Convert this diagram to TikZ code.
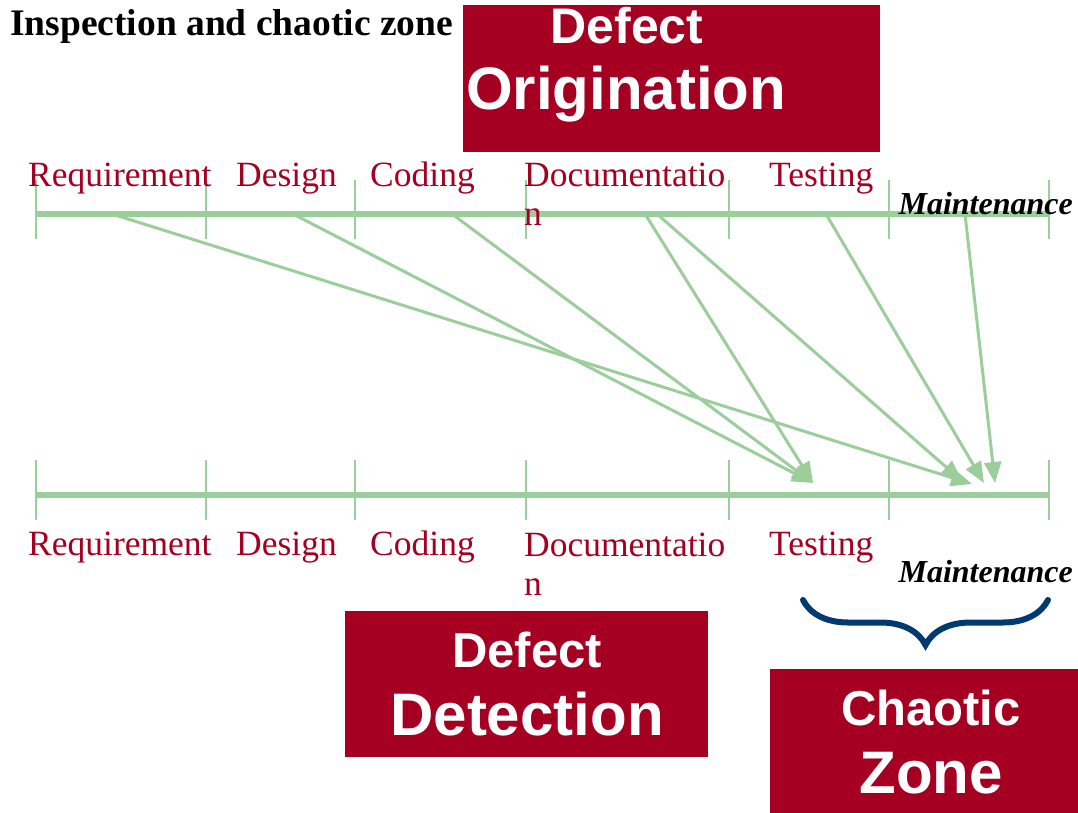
\documentclass[tikz,border=0pt]{standalone}
\usepackage{fontspec}
\setmainfont{Liberation Serif}
\newfontfamily\boxfont{Liberation Sans}
\usetikzlibrary{arrows.meta,decorations.pathreplacing}
\definecolor{defred}{HTML}{A50021}
\definecolor{axisgreen}{HTML}{9CCE9C}
\definecolor{bracenavy}{HTML}{003A70}

\begin{document}
\begin{tikzpicture}[
x=1pt, y=-1pt,
phase/.style={text=defred, font=\fontsize{35.5}{39}\selectfont, anchor=base west, inner sep=0pt, align=left},
maint/.style={font=\fontsize{32}{36}\selectfont\bfseries\itshape, anchor=base east, inner sep=0pt},
redbox/.style={fill=defred, anchor=north west, inner sep=0pt},
boxtext/.style={text=white, anchor=base, inner sep=0pt},
axis/.style={axisgreen, line width=6pt},
tickline/.style={axisgreen, line width=2pt},
arrow/.style={-{Triangle[length=21pt, width=17pt]}, axisgreen, line width=3pt}
]
\useasboundingbox (0,0) rectangle (1078,813);

\node[anchor=base west, inner sep=0pt, font=\fontsize{37.5}{40}\selectfont\bfseries] (title) at (10,36) {Inspection and chaotic zone};

\node[redbox, minimum width=417, minimum height=147] (origbox) at (463,5) {};
\node[boxtext, font=\boxfont\fontsize{50}{50}\selectfont\bfseries] (origtop) at (627,44) {Defect};
\node[boxtext, font=\boxfont\fontsize{60}{60}\selectfont\bfseries] (origbot) at (626,110) {Origination};

\coordinate (topL) at (36,214);
\coordinate (topR) at (1050,214);
\coordinate (botL) at (36,495);
\coordinate (botR) at (1050,495);
\draw[axis] (topL) -- (topR);
\draw[axis] (botL) -- (botR);
\foreach \x in {36,206,355,526,729,889,1049} {
  \draw[tickline] (\x,180) -- (\x,239);
  \draw[tickline] (\x,460) -- (\x,520);
}

\node[phase] (req) at (28,186) {Requirement};
\node[phase] (des) at (236,186) {Design};
\node[phase] (cod) at (370,186) {Coding};
\node[phase] (doc) at (524,225) {Documentatio\\n};
\node[phase] (tst) at (769,186) {Testing};
\node[maint] (mnt) at (1073,214) {Maintenance};

\node[phase] (req2) at (28,555) {Requirement};
\node[phase] (des2) at (236,555) {Design};
\node[phase] (cod2) at (370,555) {Coding};
\node[phase] (doc2) at (524,595) {Documentatio\\n};
\node[phase] (tst2) at (769,555) {Testing};
\node[maint] (mnt2) at (1073,582) {Maintenance};

\coordinate (sReq) at (112,214);
\coordinate (sDes) at (293,214);
\coordinate (sCod) at (452,214);
\coordinate (sDocA) at (645,214);
\coordinate (sDocB) at (657,214);
\coordinate (sTst) at (826,214);
\coordinate (sMnt) at (965,214);
\coordinate (eTst) at (813,483);
\coordinate (eReq) at (972,484);
\coordinate (eDoc) at (962,481);
\coordinate (eMntA) at (984,483);
\coordinate (eMntB) at (995,483);

\draw[arrow] (sReq) -- (eReq);
\draw[arrow] (sDes) -- (eTst);
\draw[arrow] (sCod) -- (eTst);
\draw[arrow] (sDocA) -- (eTst);
\draw[arrow] (sDocB) -- (eDoc);
\draw[arrow] (sTst) -- (eMntA);
\draw[arrow] (sMnt) -- (eMntB);

\coordinate (braceL) at (803,600);
\coordinate (braceR) at (1048,600);
\draw[bracenavy, line width=6pt, line cap=round, decorate, decoration={brace, mirror, amplitude=45pt, aspect=0.5}] (braceL) -- (braceR);

\node[redbox, minimum width=363, minimum height=146] (detbox) at (345,611) {};
\node[boxtext, font=\boxfont\fontsize{49}{49}\selectfont\bfseries] (dettop) at (527,667) {Defect};
\node[boxtext, font=\boxfont\fontsize{60}{60}\selectfont\bfseries] (detbot) at (527,735) {Detection};

\node[redbox, minimum width=308, minimum height=144] (chaosbox) at (770,669) {};
\node[boxtext, font=\boxfont\fontsize{49}{49}\selectfont\bfseries] (chaostop) at (931,725) {Chaotic};
\node[boxtext, font=\boxfont\fontsize{60}{60}\selectfont\bfseries] (chaosbot) at (931,793) {Zone};

\end{tikzpicture}
\end{document}
